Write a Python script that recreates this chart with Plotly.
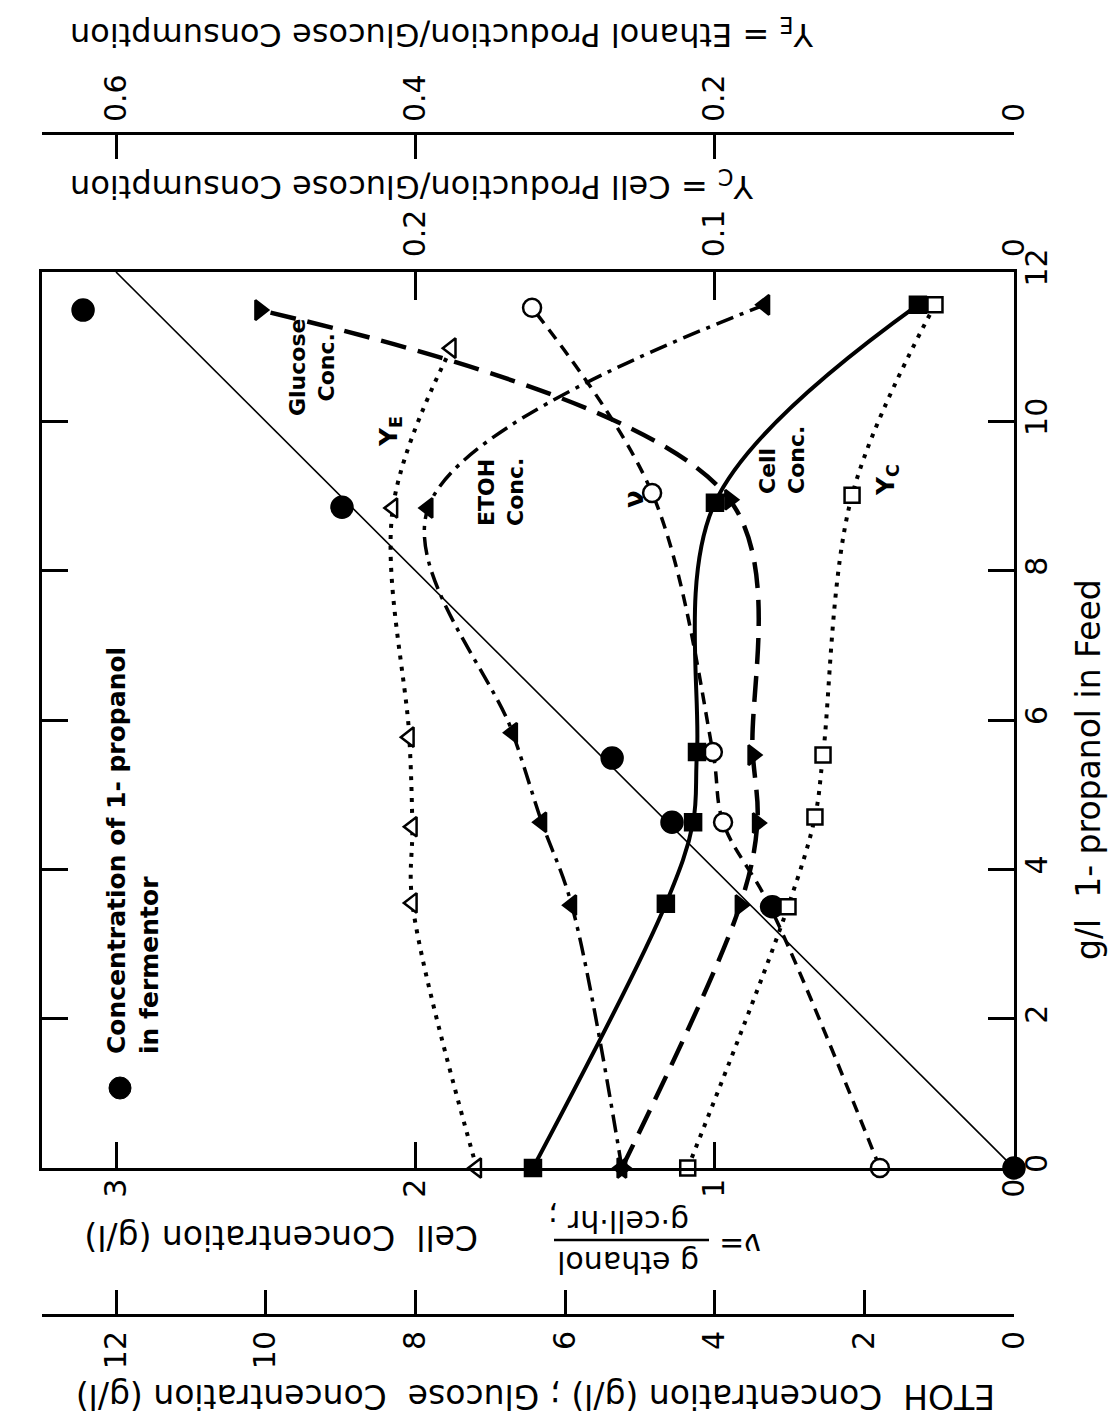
import plotly.graph_objects as go

# ---------------- data ----------------
# x of original chart = g/l 1-propanol in feed (drawn vertically here)
feed_prop   = [0, 3.50, 4.63, 5.49, 8.85, 11.49]
prop_ferm   = [0, 3.23, 4.57, 5.37, 8.98, 12.44]      # g/l, ETOH scale

diag_feed   = [0, 12]
diag_conc   = [0, 12]

feed_cell   = [0, 3.54, 4.63, 5.57, 8.91, 11.56]
cell_conc   = [1.607, 1.163, 1.072, 1.059, 0.999, 0.321]   # g/l

feed_nu     = [0, 3.50, 4.63, 5.57, 9.04, 11.52]
nu_vals     = [0.448, 0.815, 0.972, 1.006, 1.209, 1.610]   # g ethanol/g cell hr

feed_etoh   = [0, 3.52, 4.63, 5.83, 8.84, 11.56]
etoh_conc   = [5.24, 5.91, 6.31, 6.70, 7.83, 3.33]         # g/l

feed_gluc   = [0, 3.52, 4.62, 5.53, 8.95, 11.49]
gluc_conc   = [5.24, 3.66, 3.43, 3.49, 3.80, 10.08]        # g/l

feed_ye     = [0, 3.55, 4.57, 5.77, 8.84, 10.98]
ye_vals     = [0.359, 0.402, 0.402, 0.404, 0.415, 0.376]

feed_yc     = [0, 3.50, 4.70, 5.53, 9.01, 11.56]
yc_vals     = [0.109, 0.0755, 0.0665, 0.0638, 0.0541, 0.0264]

feed_ticks  = [0, 2, 4, 6, 8, 10, 12]
cell_ticks  = [0, 1, 2, 3]
etoh_ticks  = [0, 2, 4, 6, 8, 10, 12]
yc_ticks    = [0, 0.1, 0.2]
yc_labels   = ["0", "0.1", "0.2"]
ye_ticks    = [0, 0.2, 0.4, 0.6]
ye_labels   = ["0", "0.2", "0.4", "0.6"]

# ---------------- layout helpers ----------------
W, H = 1115, 1423
F = "DejaVu Sans"
def px(x): return x / W
def py(y): return 1 - y / H

CELL_MAX = 3.2472
fig = go.Figure()

def line(xs, ys, xa, dash, width, shape="spline"):
    fig.add_trace(go.Scatter(x=xs, y=ys, xaxis=xa, yaxis="y", mode="lines",
                             line=dict(color="black", width=width, dash=dash, shape=shape, smoothing=1.0),
                             hoverinfo="skip", cliponaxis=False))

def marks(xs, ys, xa, symbol, size, filled=True, lw=2.5):
    fig.add_trace(go.Scatter(x=xs, y=ys, xaxis=xa, yaxis="y", mode="markers",
                             marker=dict(symbol=symbol, size=size,
                                         color="black" if filled else "white",
                                         line=dict(color="black", width=lw)),
                             hoverinfo="skip", cliponaxis=False))

# lines
line(diag_conc, diag_feed, "x2", "solid", 1.6, shape="linear")
line(nu_vals, feed_nu, "x", "12px,8px", 3.5)
line(gluc_conc, feed_gluc, "x2", "26px,12px", 4.5)
line(etoh_conc, feed_etoh, "x2", "18px,7px,4px,7px", 3.5)
line(ye_vals, feed_ye, "x4", "4px,7px", 4)
line(yc_vals, feed_yc, "x3", "4px,7px", 4)
line(cell_conc, feed_cell, "x", "solid", 4)

# markers
marks(nu_vals, feed_nu, "x", "circle", 18, filled=False)
marks(ye_vals, feed_ye, "x4", "triangle-left", 17, filled=False)
marks(yc_vals, feed_yc, "x3", "square", 15, filled=False)
marks(etoh_conc, feed_etoh, "x2", "triangle-left", 17)
marks(gluc_conc, feed_gluc, "x2", "triangle-right", 17)
marks(cell_conc, feed_cell, "x", "square", 16)
marks(prop_ferm, feed_prop, "x2", "circle", 21)

tickfont = dict(family=F, size=30, color="black")
common = dict(showgrid=False, zeroline=False, showline=True, linecolor="black",
              ticks="inside", tickcolor="black", tickangle=-90, tickfont=tickfont,
              automargin=False)

dom_x = [px(42), px(1014)]
fig.update_layout(
    width=W, height=H,
    margin=dict(l=0, r=0, t=0, b=0, autoexpand=False),
    paper_bgcolor="white", plot_bgcolor="white",
    showlegend=False,
    xaxis=dict(domain=dom_x, range=[CELL_MAX, 0], anchor="y", side="bottom",
               linewidth=2.5, tickwidth=2.5, ticklen=26,
               tickvals=cell_ticks, ticktext=[str(v) for v in cell_ticks],
               ticklabelstandoff=-4, **common),
    xaxis2=dict(domain=dom_x, range=[CELL_MAX * 4, 0], overlaying="x", anchor="free",
                position=py(1315), side="bottom",
                linewidth=3, tickwidth=2.5, ticklen=24,
                tickvals=etoh_ticks, ticktext=[str(v) for v in etoh_ticks],
                ticklabelstandoff=2, **common),
    xaxis3=dict(domain=dom_x, range=[CELL_MAX / 10, 0], overlaying="x", anchor="y", side="top",
                linewidth=2.5, tickwidth=2.5, ticklen=28,
                tickvals=yc_ticks, ticktext=yc_labels,
                ticklabelstandoff=6, **common),
    xaxis4=dict(domain=dom_x, range=[CELL_MAX / 5, 0], overlaying="x", anchor="free",
                position=py(133), side="top",
                linewidth=3, tickwidth=2.5, ticklen=24,
                tickvals=ye_ticks, ticktext=ye_labels,
                ticklabelstandoff=4, **common),
    yaxis=dict(domain=[py(1168), py(272)], range=[0, 12], anchor="x", side="right",
               mirror="ticks", linewidth=2.5, tickwidth=2.5, ticklen=26,
               tickvals=feed_ticks, ticktext=[str(v) for v in feed_ticks],
               ticklabelstandoff=-6, **common),
)

def ann(text, x, y, angle, size, align="center", bold=False):
    fig.add_annotation(text=text, x=px(x), y=py(y), xref="paper", yref="paper",
                       showarrow=False, textangle=angle, align=align,
                       xanchor="center", yanchor="middle",
                       font=dict(family=F, size=size, color="black",
                                 weight="bold" if bold else "normal"))

S = "\u00a0"
# axis titles
ann("Y<sub>E</sub> = Ethanol" + S + "Production/Glucose" + S + "Consumption", 442, 33, 180, 32)
ann("Y<sub>C</sub> = Cell" + S + "Production/Glucose" + S + "Consumption", 412, 185, 180, 32)
ann("Cell" + S + S + "Concentration (g/l)", 281, 1238, 180, 33)
ann("ETOH" + S + S + "Concentration (g/l) ;" + S + "Glucose" + S + S + "Concentration (g/l)",
    536, 1397, 180, 33)
ann("g/l" + S + S + "1- propanol in Feed", 1088, 770, -90, 33)

# nu fraction (upside down)
ann("ν=", 740, 1245, 180, 30)
ann("g ethanol", 628, 1263, 180, 30)
ann("g·cell·hr", 628, 1222, 180, 30)
ann(";", 553, 1218, 180, 30)
fig.add_shape(type="line", xref="paper", yref="paper", x0=px(554), x1=px(709),
              y0=py(1240), y1=py(1240), line=dict(color="black", width=2.5))

# legend
fig.add_shape(type="circle", xref="paper", yref="paper", x0=px(109), x1=px(131),
              y0=py(1099), y1=py(1077), fillcolor="black", line=dict(color="black", width=1))
ann("Concentration of 1- propanol<br>in fermentor", 133, 851, -90, 25, align="left", bold=True)

# curve labels
ann("Glucose<br>Conc.", 312, 368, -90, 22, bold=True)
ann("Y<sub>E</sub>", 390, 432, -90, 25, bold=True)
ann("ETOH<br>Conc.", 501, 492, -90, 22, align="left", bold=True)
ann("ν", 634, 499, -90, 26, bold=True)
ann("Cell<br>Conc.", 782, 460, -90, 22, align="left", bold=True)
ann("Y<sub>C</sub>", 887, 480, -90, 25, bold=True)

fig.write_html("out.html", config={"displayModeBar": False},
               post_script="document.body.style.margin='0';document.body.style.overflow='hidden';")
